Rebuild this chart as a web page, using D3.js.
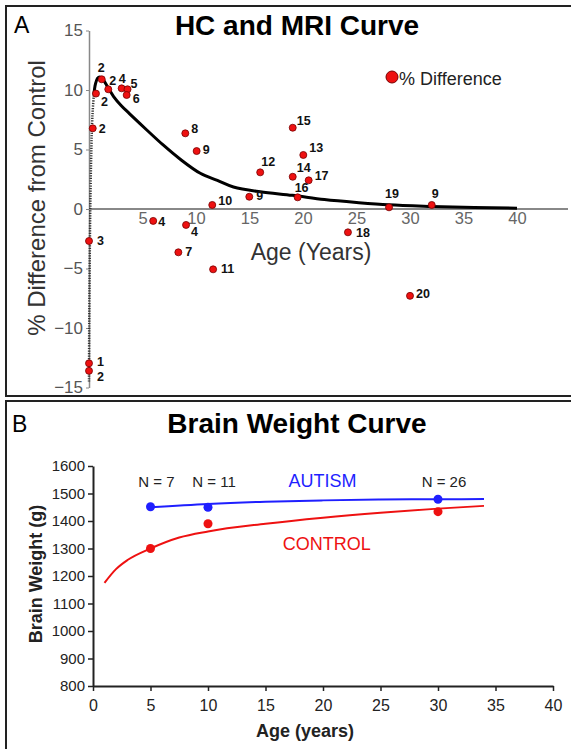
<!DOCTYPE html>
<html>
<head>
<meta charset="utf-8">
<script src="https://cdn.jsdelivr.net/npm/d3@7"></script>
<style>
  body { margin: 0; background: #fff; }
  text { font-family: "Liberation Sans", Arial, sans-serif; }
</style>
</head>
<body>
<script>
// ---- panel A data: % difference from control, by age ----
var diffAges   = [1.19, 0.65, 1.8, 3.05, 3.6, 3.52, 0.35, 9.0, 10.06, 16.0, 14.98, 11.52, 6.0, 9.07, 8.35, 11.6, 0, 0, 0, 19.04, 20.03, 19.04, 20.53, 19.5, 28.04, 32.03, 24.2, 30.0]
var diffValues = [10.9, 9.7, 10.06, 10.14, 10.06, 9.58, 6.78, 6.36, 4.87, 3.08, 1.03, 0.34, -1.0, -1.34, -3.64, -5.07, -2.69, -12.97, -13.6, 6.83, 4.54, 2.71, 2.41, 0.98, 0.14, 0.34, -1.96, -7.3]
var diffN      = ["2", "2", "2", "4", "5", "6", "2", "8", "9", "12", "9", "10", "4", "4", "7", "11", "3", "1", "2", "15", "13", "14", "17", "16", "19", "9", "18", "20"]

// fitted HC/MRI curve
var curveAges   = [0, 0.02, 0.06, 0.12, 0.22, 0.33, 0.45, 0.6, 0.8, 1.0, 1.3, 1.65, 2.3, 3.0, 3.8, 5.4, 6.9, 8.5, 10.4, 12, 13.5, 16, 19, 22, 25, 28, 32, 36, 40]
var curveValues = [-14.5, -10, -5, 0, 5, 8, 9.6, 10.5, 11.0, 11.1, 10.9, 10.4, 9.45, 8.7, 8.0, 6.64, 5.4, 4.2, 3.0, 2.4, 1.85, 1.45, 1.15, 0.8, 0.55, 0.35, 0.22, 0.13, 0.07]
var dottedPart = 7   // first points of the curve are drawn dotted

var xTicksA = [5, 10, 15, 20, 25, 30, 35, 40]
var yTicksA = [-15, -10, -5, 0, 5, 10, 15]

// ---- panel B data: brain weight ----
var groupAges = [5, 10, 30]
var autismWeights = [1452, 1450, 1479]
var controlWeights = [1300, 1390, 1434]
var groupN = ["N = 7", "N = 11", "N = 26"]

var autismFitAges = [5, 10, 15, 20, 25, 30, 34]
var autismFit     = [1450, 1462, 1470, 1475, 1478, 1479, 1480]
var controlFitAges = [1, 2, 3, 5, 7.5, 10, 15, 20, 25, 30, 34]
var controlFit     = [1175, 1225, 1258, 1300, 1340, 1362, 1390, 1412, 1430, 1445, 1455]

var xTicksB = [0, 5, 10, 15, 20, 25, 30, 35, 40]
var yTicksB = [800, 900, 1000, 1100, 1200, 1300, 1400, 1500, 1600]

// label placement next to each point of panel A, [dx, dy]
var labelOffsets = [[-4, -7], [5, 12], [1, -4], [-3, -5], [3, -1], [6, 8], [6, 5], [6, 0], [6, 3], [1, -6], [7, 3], [6, 0],
  [5, 5], [5, 11], [7, 4], [8, 4], [8, 4], [8, 3], [8, 10], [4, -3], [6, -3], [4, -5], [6, 0], [-3, -5], [-4, -9], [0, -7], [8, 5], [6, 2]]

var RED = "#ee1111", BLUE = "#1f1fff"

var svg = d3.select("body").append("svg").attr("width", 571).attr("height", 749)

// panel frames
svg.append("rect").attr("x", 6).attr("y", 6).attr("width", 580).attr("height", 390)
  .attr("fill", "none").attr("stroke", "#222").attr("stroke-width", 2)
svg.append("rect").attr("x", 6).attr("y", 401).attr("width", 580).attr("height", 370)
  .attr("fill", "none").attr("stroke", "#222").attr("stroke-width", 2)

// ================= panel A =================
var xA = d3.scaleLinear().domain([0, 40]).range([89, 517])
var yA = d3.scaleLinear().domain([-15, 15]).range([387.5, 30.5])

svg.append("text").attr("x", 14).attr("y", 33).attr("font-size", 23).text("A")
svg.append("text").attr("x", 297).attr("y", 35).attr("text-anchor", "middle")
  .attr("font-size", 28).attr("font-weight", "bold").text("HC and MRI Curve")

var yAxisA = svg.append("g")
  .attr("transform", "translate(" + xA(0) + ",0)")
  .call(d3.axisLeft(yA).tickValues(yTicksA).tickSize(3).tickSizeOuter(0).tickFormat(d3.format("d")))
yAxisA.select(".domain").attr("stroke", "#888").attr("stroke-width", 1.5)
yAxisA.selectAll(".tick line").attr("stroke", "#888")
yAxisA.selectAll(".tick text").attr("font-size", 17).attr("fill", "#555").attr("font-family", "Liberation Sans, Arial, sans-serif")

svg.append("line").attr("x1", xA(0)).attr("x2", 568).attr("y1", yA(0)).attr("y2", yA(0))
  .attr("stroke", "#888").attr("stroke-width", 2)
var xAxisA = svg.append("g")
  .attr("transform", "translate(0," + yA(0) + ")")
  .call(d3.axisBottom(xA).tickValues(xTicksA).tickSize(0).tickPadding(3))
xAxisA.select(".domain").remove()
xAxisA.selectAll(".tick text").attr("font-size", 16.5).attr("fill", "#666").attr("font-family", "Liberation Sans, Arial, sans-serif")

svg.append("text").attr("x", 311).attr("y", 260).attr("text-anchor", "middle")
  .attr("font-size", 23).attr("fill", "#333").text("Age (Years)")
svg.append("text").attr("transform", "translate(45,198) rotate(-90)").attr("text-anchor", "middle")
  .attr("font-size", 24).attr("fill", "#333").text("% Difference from Control")

// fitted curve
var curvePts = curveAges.map(function (a, i) { return [a, curveValues[i]] })
var lineA = d3.line().x(function (d) { return xA(d[0]) }).y(function (d) { return yA(d[1]) })
  .curve(d3.curveCatmullRom.alpha(0.5))
svg.append("path").datum(curvePts.slice(0, dottedPart))
  .attr("d", lineA).attr("fill", "none").attr("stroke", "#333")
  .attr("stroke-width", 2.5).attr("stroke-dasharray", "1.2,1.3")
svg.append("path").datum(curvePts.slice(dottedPart - 1))
  .attr("d", lineA).attr("fill", "none").attr("stroke", "#000").attr("stroke-width", 3)

// points + N labels
var diffData = diffAges.map(function (a, i) { return { age: a, value: diffValues[i], n: diffN[i], off: labelOffsets[i] } })
svg.append("g").selectAll("circle").data(diffData).enter().append("circle")
  .attr("cx", function (d) { return xA(d.age) })
  .attr("cy", function (d) { return yA(d.value) })
  .attr("r", 3.5).attr("fill", RED).attr("stroke", "#700").attr("stroke-width", 0.8)
svg.append("g").selectAll("text").data(diffData).enter().append("text")
  .attr("x", function (d) { return xA(d.age) + d.off[0] })
  .attr("y", function (d) { return yA(d.value) + d.off[1] })
  .attr("font-size", 12.5).attr("font-weight", "bold").attr("fill", "#111")
  .text(function (d) { return d.n })

// legend
svg.append("circle").attr("cx", 392).attr("cy", 77).attr("r", 6)
  .attr("fill", RED).attr("stroke", "#700").attr("stroke-width", 1)
svg.append("text").attr("x", 399).attr("y", 85).attr("font-size", 18).attr("fill", "#222").text("% Difference")

// ================= panel B =================
var xB = d3.scaleLinear().domain([0, 40]).range([93, 553])
var yB = d3.scaleLinear().domain([800, 1600]).range([686, 466])

svg.append("text").attr("x", 12).attr("y", 432).attr("font-size", 23).text("B")
svg.append("text").attr("x", 297).attr("y", 433).attr("text-anchor", "middle")
  .attr("font-size", 28).attr("font-weight", "bold").text("Brain Weight Curve")

var yAxisB = svg.append("g")
  .attr("transform", "translate(" + xB(0) + ",0)")
  .call(d3.axisLeft(yB).tickValues(yTicksB).tickSize(5).tickSizeOuter(0).tickFormat(d3.format("d")))
var xAxisB = svg.append("g")
  .attr("transform", "translate(0," + yB(800) + ")")
  .call(d3.axisBottom(xB).tickValues(xTicksB).tickSize(5).tickSizeOuter(0).tickPadding(9))
;[yAxisB, xAxisB].forEach(function (ax) {
  ax.select(".domain").attr("stroke", "#222").attr("stroke-width", 2)
  ax.selectAll(".tick line").attr("stroke", "#222").attr("stroke-width", 1.5)
  ax.selectAll(".tick text").attr("fill", "#222").attr("font-family", "Liberation Sans, Arial, sans-serif")
})
yAxisB.selectAll(".tick text").attr("font-size", 15)
xAxisB.selectAll(".tick text").attr("font-size", 16)

svg.append("text").attr("x", 305).attr("y", 737).attr("text-anchor", "middle")
  .attr("font-size", 18).attr("font-weight", "bold").attr("fill", "#222").text("Age (years)")
svg.append("text").attr("transform", "translate(42,574) rotate(-90)").attr("text-anchor", "middle")
  .attr("font-size", 18).attr("font-weight", "bold").attr("fill", "#222").text("Brain Weight (g)")

var lineB = d3.line().x(function (d) { return xB(d[0]) }).y(function (d) { return yB(d[1]) })
  .curve(d3.curveMonotoneX)
svg.append("path").datum(controlFitAges.map(function (a, i) { return [a, controlFit[i]] }))
  .attr("d", lineB).attr("fill", "none").attr("stroke", RED).attr("stroke-width", 2)
svg.append("path").datum(autismFitAges.map(function (a, i) { return [a, autismFit[i]] }))
  .attr("d", lineB).attr("fill", "none").attr("stroke", BLUE).attr("stroke-width", 2)

svg.append("g").selectAll("circle").data(groupAges).enter().append("circle")
  .attr("cx", function (d) { return xB(d) })
  .attr("cy", function (d, i) { return yB(controlWeights[i]) })
  .attr("r", 4.5).attr("fill", RED)
svg.append("g").selectAll("circle").data(groupAges).enter().append("circle")
  .attr("cx", function (d) { return xB(d) })
  .attr("cy", function (d, i) { return yB(autismWeights[i]) })
  .attr("r", 4.5).attr("fill", BLUE)

svg.append("g").selectAll("text").data(groupAges).enter().append("text")
  .attr("x", function (d) { return xB(d) + 6 })
  .attr("y", yB(1600) + 21)
  .attr("text-anchor", "middle").attr("font-size", 15).attr("fill", "#222")
  .text(function (d, i) { return groupN[i] })

svg.append("text").attr("x", xB(17)).attr("y", yB(1600) + 21)
  .attr("font-size", 18).attr("fill", BLUE).text("AUTISM")
svg.append("text").attr("x", xB(16.5)).attr("y", yB(1295))
  .attr("font-size", 18).attr("fill", RED).text("CONTROL")
</script>
</body>
</html>
